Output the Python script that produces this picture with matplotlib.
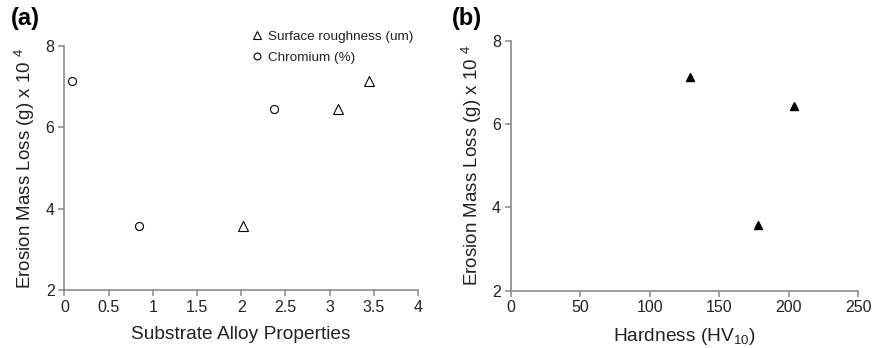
import matplotlib.pyplot as plt

plt.rcParams['font.family'] = ['Liberation Sans', 'DejaVu Sans']
plt.rcParams['mathtext.fontset'] = 'custom'
plt.rcParams['mathtext.rm'] = 'Liberation Sans'
plt.rcParams['mathtext.it'] = 'Liberation Sans'

# ---------- Data ----------
mass_loss = [7.13, 3.57, 6.44]          # erosion mass loss (g) x 10^4
chromium = [0.09, 0.85, 2.37]           # Cr content (%)
roughness = [3.45, 2.02, 3.09]          # surface roughness (um)
hardness = [129, 178, 204]              # HV10

X_TICKS_A = [0, 0.5, 1, 1.5, 2, 2.5, 3, 3.5, 4]
X_TICKS_B = [0, 50, 100, 150, 200, 250]
Y_TICKS = [2, 4, 6, 8]

YLABEL = r"Erosion Mass Loss (g) x 10 $^{4}$"
AXIS_GREY = "#8a8a8a"
TXT = "#222222"


def style_axes(ax):
    for side in ("top", "right"):
        ax.spines[side].set_visible(False)
    for side in ("left", "bottom"):
        ax.spines[side].set_color(AXIS_GREY)
        ax.spines[side].set_linewidth(1.2)
    ax.tick_params(direction="out", length=4, width=1.1, color=AXIS_GREY,
                   labelsize=11.5, labelcolor=TXT, pad=3)
    ax.set_yticks(Y_TICKS)
    ax.set_yticklabels([str(v) for v in Y_TICKS])
    ax.set_ylim(2, 8)
    ax.set_ylabel(YLABEL, fontsize=13.5, color=TXT, labelpad=6)


fig = plt.figure(figsize=(8.81, 3.48), dpi=100)

# (a) mass loss vs substrate alloy properties
ax1 = fig.add_axes([0.073, 0.167, 0.4015, 0.701])
ax1.plot(roughness, mass_loss, linestyle="none", marker="^", markersize=7,
         markerfacecolor="white", markeredgecolor="black", markeredgewidth=0.8,
         label="Surface roughness (um)")
ax1.plot(chromium, mass_loss, linestyle="none", marker="o", markersize=5.8,
         markerfacecolor="white", markeredgecolor="black", markeredgewidth=0.8,
         label="Chromium (%)")
ax1.set_xlim(0, 4)
ax1.set_xticks(X_TICKS_A)
ax1.set_xticklabels([f"{v:g}" for v in X_TICKS_A])
style_axes(ax1)
ax1.set_xlabel("Substrate Alloy Properties", fontsize=13.8, color=TXT, labelpad=8)
ax1.legend(loc="upper left", bbox_to_anchor=(0.52, 1.085), frameon=False,
           fontsize=9.7, markerscale=0.85, handlelength=0.5, handletextpad=0.55,
           labelspacing=0.6, borderaxespad=0, labelcolor=TXT)
fig.text(0.012, 0.948, "(a)", fontsize=17, fontweight="bold", va="center", ha="left")

# (b) mass loss vs hardness
ax2 = fig.add_axes([0.5797, 0.165, 0.3943, 0.718])
ax2.plot(hardness, mass_loss, linestyle="none", marker="^", markersize=5.8,
         color="black")
ax2.set_xlim(0, 250)
ax2.set_xticks(X_TICKS_B)
style_axes(ax2)
ax2.set_xlabel(r"Hardness (HV$_{10}$)", fontsize=13.8, color=TXT, labelpad=8)
fig.text(0.513, 0.948, "(b)", fontsize=17, fontweight="bold", va="center", ha="left")

fig.savefig("out.png", dpi=100)
